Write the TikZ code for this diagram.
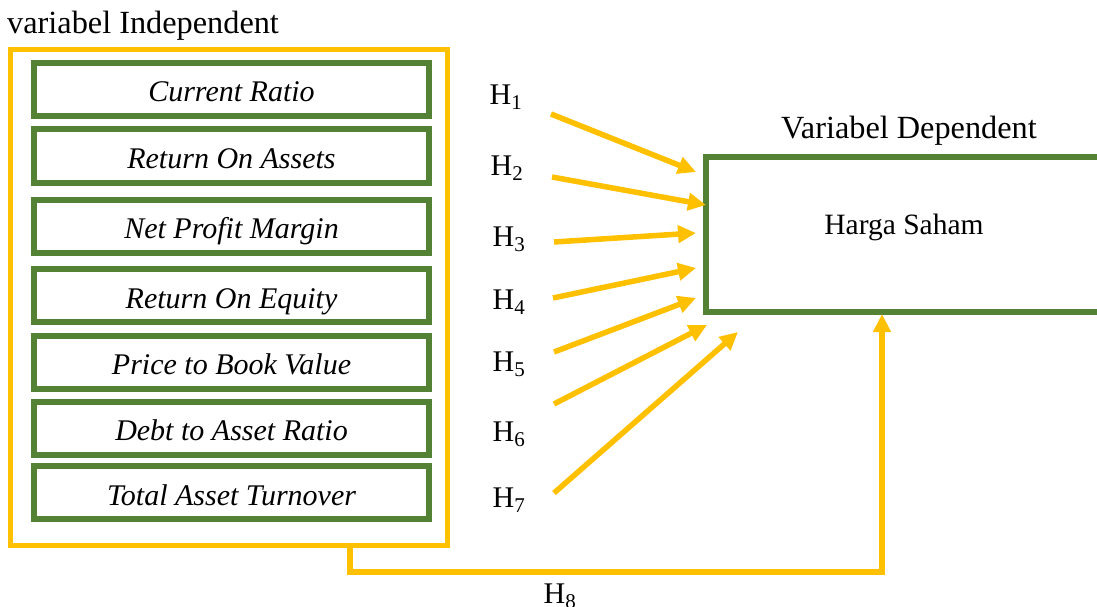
\documentclass[tikz,border=0pt]{standalone}
\usepackage{fontspec}
\setmainfont{Liberation Serif}
\usetikzlibrary{arrows.meta}
\definecolor{ygold}{HTML}{FFC000}
\definecolor{dgreen}{HTML}{548235}
\tikzset{
  varbox/.style={draw=dgreen, line width=6pt, minimum width=395pt, minimum height=53pt, inner sep=0pt,
    text height=28pt, text depth=3pt,
    font=\fontsize{30}{34}\selectfont\itshape},
  hlab/.style={inner sep=0pt, font=\fontsize{30}{34}\selectfont},
  headlab/.style={inner sep=0pt, font=\fontsize{32.3}{38}\selectfont},
  plainlab/.style={inner sep=0pt, font=\fontsize{29.5}{36}\selectfont},
  yarrow/.style={draw=ygold, line width=5.5pt, -{Triangle[length=18pt,width=17pt]}},
  yline/.style={draw=ygold, line width=5pt},
}
\begin{document}
\begin{tikzpicture}[x=1pt,y=-1pt]
\useasboundingbox (0,0) rectangle (1097,607);
% outer yellow frame
\draw[yline] (10,49.5) rectangle (447,545.5);
\node[headlab, anchor=west] (indep) at (7,26) {variabel Independent};
% variable boxes
\node[varbox] (b1) at (231.5,89.5) {Current Ratio};
\node[varbox] (b2) at (231.5,156) {Return On Assets};
\node[varbox] (b3) at (231.5,226) {Net Profit Margin};
\node[varbox] (b4) at (231.5,295.5) {Return On Equity};
\node[varbox] (b5) at (231.5,362) {Price to Book Value};
\node[varbox] (b6) at (231.5,428) {Debt to Asset Ratio};
\node[varbox] (b7) at (231.5,492.5) {Total Asset Turnover};
% dependent box (open on the right)
\draw[draw=dgreen, line width=6pt] (1097,157) -- (706,157) -- (706,312) -- (1097,312);
\node[headlab] (deplab) at (909,131) {Variabel Dependent};
\node[plainlab] (harga) at (904,227) {Harga Saham};
% hypothesis labels
\node[hlab] (h1) at (506,97) {H\textsubscript{1}};
\node[hlab] (h2) at (507,168) {H\textsubscript{2}};
\node[hlab] (h3) at (509,239) {H\textsubscript{3}};
\node[hlab] (h4) at (509,302) {H\textsubscript{4}};
\node[hlab] (h5) at (509,364) {H\textsubscript{5}};
\node[hlab] (h6) at (509,434) {H\textsubscript{6}};
\node[hlab] (h7) at (509,500) {H\textsubscript{7}};
\node[hlab] (h8) at (560,596) {H\textsubscript{8}};
% arrow coordinates
\coordinate (s1) at (551,114); \coordinate (t1) at (696,172);
\coordinate (s2) at (552,177); \coordinate (t2) at (706,205);
\coordinate (s3) at (554,242); \coordinate (t3) at (696,233);
\coordinate (s4) at (553,298); \coordinate (t4) at (696,268);
\coordinate (s5) at (554,352); \coordinate (t5) at (696,298);
\coordinate (s6) at (554,404); \coordinate (t6) at (707,325);
\coordinate (s7) at (554,493); \coordinate (t7) at (738,332);
\foreach \i in {1,...,7} {\draw[yarrow] (s\i) -- (t\i);}
% H8 connector
\coordinate (s8) at (350,548);
\coordinate (t8) at (882,314);
\draw[yarrow] (s8) -- (350,572) -- (882,572) -- (t8);
\end{tikzpicture}
\end{document}
